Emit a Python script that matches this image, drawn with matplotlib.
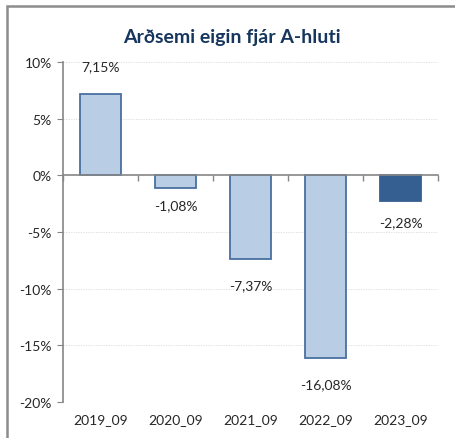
import numpy as np
import matplotlib.pyplot as plt
from matplotlib.patches import Rectangle
from matplotlib.ticker import FuncFormatter

# Data
periods = ['2019_09', '2020_09', '2021_09', '2022_09', '2023_09']
roe = [7.15, -1.08, -7.37, -16.08, -2.28]
# label offset from bar end, in points (labels were hand placed in the original)
label_offsets = [20, 13, 19, 19, 15]

LIGHT = '#B9CDE5'
EDGE = '#4A6FA0'
DARK = '#365F91'
NAVY = '#17365D'
GREY = '#868686'

plt.rcParams['font.family'] = ['Lato', 'DejaVu Sans']

fig = plt.figure(figsize=(4.55, 4.39), dpi=100)
ax = fig.add_axes([63 / 455, 1 - 403 / 439, 375 / 455, 340 / 439])

x = np.arange(len(periods))
colors = [LIGHT] * (len(roe) - 1) + [DARK]
edges = [EDGE] * (len(roe) - 1) + [DARK]
ax.bar(x, roe, width=0.55, color=colors, edgecolor=edges, linewidth=1.3, zorder=3)

for xi, v, off in zip(x, roe, label_offsets):
    txt = f'{v:.2f}%'.replace('.', ',')
    ax.annotate(txt, (xi, v), xytext=(0, off if v > 0 else -off),
                textcoords='offset points', ha='center', va='center',
                fontsize=10, color='#262626', zorder=4)

ax.set_xlim(-0.5, len(periods) - 0.5)
ax.set_ylim(-20, 10)
ax.set_yticks(np.arange(-20, 11, 5))
ax.yaxis.set_major_formatter(FuncFormatter(lambda v, _: f'{v:.0f}%'))
ax.set_xticks(x)
ax.set_xticklabels(periods)
ax.tick_params(axis='x', length=0, pad=8, labelsize=10, labelcolor='#262626')
ax.tick_params(axis='y', length=4, color=GREY, labelsize=10, labelcolor='#262626', pad=4)

for yv in np.arange(-20, 11, 5):
    if yv != 0:
        ax.axhline(yv, color='#D9D9D9', linewidth=0.6, linestyle=(0, (1.5, 1.5)), zorder=1)

for s in ['top', 'right', 'bottom']:
    ax.spines[s].set_visible(False)
ax.spines['left'].set_color(GREY)
ax.spines['left'].set_linewidth(1.2)

# category axis crossing at 0 with tick marks between categories
sec = ax.secondary_xaxis(0, transform=ax.transData)
sec.set_xticks(np.arange(len(periods) + 1) - 0.5)
sec.set_xticklabels([])
sec.tick_params(length=4, color=GREY, width=1)
sec.spines['bottom'].set_color(GREY)
sec.spines['bottom'].set_linewidth(1.2)
sec.set_zorder(4)

fig.text(232 / 455, 1 - 37 / 439, 'Arðsemi eigin fjár A-hluti', ha='center', va='center',
         fontsize=14, fontweight='bold', color=NAVY)

# chart border (only top/left visible in the crop)
fig.patches.append(Rectangle((7 / 455, -0.1), 1.2, 1 - 7 / 439 + 0.1,
                             transform=fig.transFigure, fill=False,
                             edgecolor='#8C8C8C', linewidth=1.8))

fig.savefig('out.png', dpi=100)
